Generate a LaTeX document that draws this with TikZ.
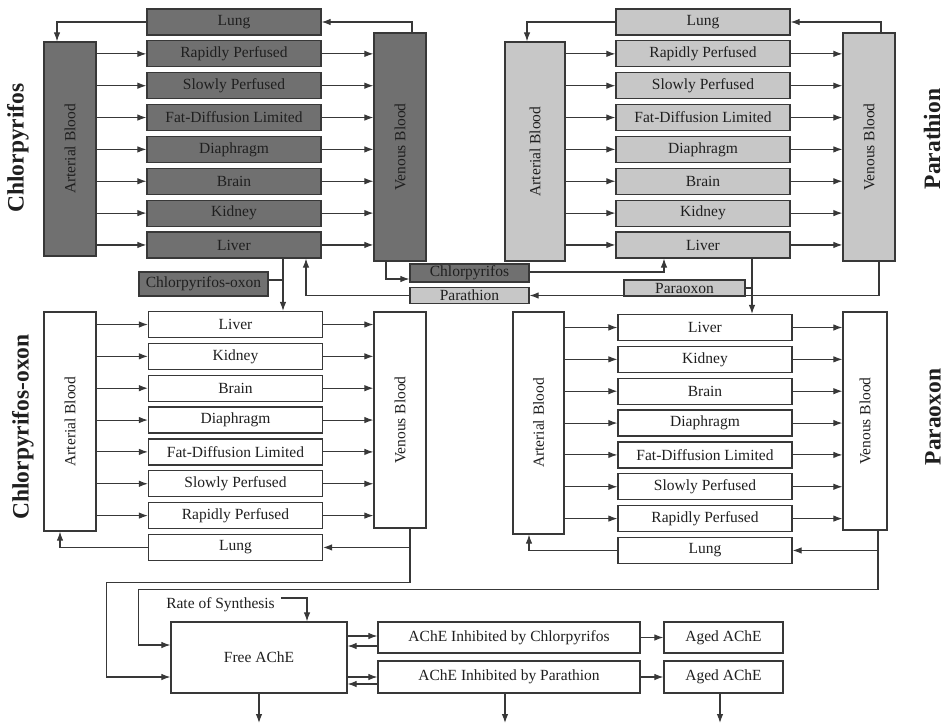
\documentclass[tikz,border=0pt]{standalone}
\usepackage{graphicx}
\usepackage{fontspec}
\setmainfont{Liberation Serif}
\usetikzlibrary{positioning, arrows.meta}

\definecolor{darkfill}{gray}{0.44}
\definecolor{lightfill}{gray}{0.78}
\definecolor{wire}{gray}{0.22}
\definecolor{ink}{gray}{0.12}

\begin{document}
\begin{tikzpicture}[
            x = 1pt, y = -1pt,
            > = {Latex[length=9pt, width=6.5pt]},
            node distance = 31.85pt,
            on grid,
            organ/.style = {rectangle, draw=wire, line width=1.2pt, fill=white, text=ink,
                minimum width=174pt, minimum height=26pt, inner sep=0pt,
                font=\fontsize{15.5}{17}\selectfont},
            dark/.style = {organ, fill=darkfill},
            light/.style = {organ, fill=lightfill},
            flow/.style = {->, color=wire, line width=1.1pt},
            link/.style = {color=wire, line width=1.1pt},
            side/.style = {rotate=90, text=ink, font=\bfseries\fontsize{23.5}{26}\selectfont}
        ]

            \useasboundingbox (0,0) rectangle (944,725);

            % Chlorpyrifos compartments
            \node[dark] (lungA) at (234,22) {Lung};
            \node[dark] (rapidA) [below=of lungA] {Rapidly Perfused};
            \node[dark] (slowA) [below=of rapidA] {Slowly Perfused};
            \node[dark] (fatA) [below=of slowA] {Fat-Diffusion Limited};
            \node[dark] (diaA) [below=of fatA] {Diaphragm};
            \node[dark] (brainA) [below=of diaA] {Brain};
            \node[dark] (kidA) [below=of brainA] {Kidney};
            \node[dark] (livA) [below=of kidA] {Liver};
            \node[dark, minimum width=52pt, minimum height=214pt] (artA) at (70,149) {\rotatebox{90}{Arterial Blood}};
            \node[dark, minimum width=52pt, minimum height=228pt] (venA) at (400,147) {\rotatebox{90}{Venous Blood}};

            % Parathion compartments
            \node[light] (lungB) at (703,22) {Lung};
            \node[light] (rapidB) [below=of lungB] {Rapidly Perfused};
            \node[light] (slowB) [below=of rapidB] {Slowly Perfused};
            \node[light] (fatB) [below=of slowB] {Fat-Diffusion Limited};
            \node[light] (diaB) [below=of fatB] {Diaphragm};
            \node[light] (brainB) [below=of diaB] {Brain};
            \node[light] (kidB) [below=of brainB] {Kidney};
            \node[light] (livB) [below=of kidB] {Liver};
            \node[light, minimum width=60pt, minimum height=219pt] (artB) at (535,151.5) {\rotatebox{90}{Arterial Blood}};
            \node[light, minimum width=52pt, minimum height=228pt] (venB) at (869,147) {\rotatebox{90}{Venous Blood}};

            % Chlorpyrifos-oxon compartments
            \node[organ] (livC) at (235.5,324.5) {Liver};
            \node[organ] (kidC) [below=of livC] {Kidney};
            \node[organ] (brainC) [below=of kidC] {Brain};
            \node[organ] (diaC) [below=of brainC] {Diaphragm};
            \node[organ] (fatC) [below=of diaC] {Fat-Diffusion Limited};
            \node[organ] (slowC) [below=of fatC] {Slowly Perfused};
            \node[organ] (rapidC) [below=of slowC] {Rapidly Perfused};
            \node[organ] (lungC) [below=of rapidC] {Lung};
            \node[organ, minimum width=52pt, minimum height=219pt] (artC) at (70,421.5) {\rotatebox{90}{Arterial Blood}};
            \node[organ, minimum width=52pt, minimum height=216pt] (venC) at (400,420) {\rotatebox{90}{Venous Blood}};

            % Paraoxon compartments
            \node[organ] (livD) at (705,327.5) {Liver};
            \node[organ] (kidD) [below=of livD] {Kidney};
            \node[organ] (brainD) [below=of kidD] {Brain};
            \node[organ] (diaD) [below=of brainD] {Diaphragm};
            \node[organ] (fatD) [below=of diaD] {Fat-Diffusion Limited};
            \node[organ] (slowD) [below=of fatD] {Slowly Perfused};
            \node[organ] (rapidD) [below=of slowD] {Rapidly Perfused};
            \node[organ] (lungD) [below=of rapidD] {Lung};
            \node[organ, minimum width=51pt, minimum height=222pt] (artD) at (538.5,423) {\rotatebox{90}{Arterial Blood}};
            \node[organ, minimum width=44pt, minimum height=218pt] (venD) at (865,421) {\rotatebox{90}{Venous Blood}};

            % Exchange boxes between the models
            \node[dark, minimum width=129pt, minimum height=24pt] (oxonA) at (203.5,284) {Chlorpyrifos-oxon};
            \node[dark, minimum width=119pt, minimum height=18pt] (chlor) at (469.5,273) {Chlorpyrifos};
            \node[light, minimum width=119pt, minimum height=16pt] (parath) at (469.5,295.5) {Parathion};
            \node[light, minimum width=121pt, minimum height=16pt] (paraox) at (684.5,288) {Paraoxon};

            % Enzyme states
            \node[organ, minimum width=176pt, minimum height=71pt] (freeA) at (259,657.5) {Free AChE};
            \node[organ, minimum width=262pt, minimum height=31pt] (inhC) at (509,637.5) {AChE Inhibited by Chlorpyrifos};
            \node[organ, minimum width=262pt, minimum height=32pt] (inhP) at (509,677) {AChE Inhibited by Parathion};
            \node[organ, minimum width=119pt, minimum height=31pt] (agedC) at (723.5,637.5) {Aged AChE};
            \node[organ, minimum width=119pt, minimum height=32pt] (agedP) at (723.5,677) {Aged AChE};
            \node[text=ink, inner sep=0pt, font=\fontsize{15.5}{17}\selectfont] (rate) at (220.5,605) {Rate of Synthesis};

            % Side labels
            \node[side] (labA) at (18,148) {Chlorpyrifos};
            \node[side] (labB) at (932,139) {Parathion};
            \node[side] (labC) at (23,427) {Chlorpyrifos-oxon};
            \node[side] (labD) at (933,417) {Paraoxon};

            % Flows through the chlorpyrifos model
            \path[flow] (artA.east |- rapidA) edge (rapidA) (rapidA) edge (venA.west |- rapidA);
            \path[flow] (artA.east |- slowA) edge (slowA) (slowA) edge (venA.west |- slowA);
            \path[flow] (artA.east |- fatA) edge (fatA) (fatA) edge (venA.west |- fatA);
            \path[flow] (artA.east |- diaA) edge (diaA) (diaA) edge (venA.west |- diaA);
            \path[flow] (artA.east |- brainA) edge (brainA) (brainA) edge (venA.west |- brainA);
            \path[flow] (artA.east |- kidA) edge (kidA) (kidA) edge (venA.west |- kidA);
            \path[flow] (artA.east |- livA) edge (livA) (livA) edge (venA.west |- livA);
            \draw[flow] ([xshift=12pt]venA.north) |- (lungA);
            \draw[flow] (lungA) -| ([xshift=-13pt]artA.north);

            % Flows through the parathion model
            \path[flow] (artB.east |- rapidB) edge (rapidB) (rapidB) edge (venB.west |- rapidB);
            \path[flow] (artB.east |- slowB) edge (slowB) (slowB) edge (venB.west |- slowB);
            \path[flow] (artB.east |- fatB) edge (fatB) (fatB) edge (venB.west |- fatB);
            \path[flow] (artB.east |- diaB) edge (diaB) (diaB) edge (venB.west |- diaB);
            \path[flow] (artB.east |- brainB) edge (brainB) (brainB) edge (venB.west |- brainB);
            \path[flow] (artB.east |- kidB) edge (kidB) (kidB) edge (venB.west |- kidB);
            \path[flow] (artB.east |- livB) edge (livB) (livB) edge (venB.west |- livB);
            \draw[flow] ([xshift=12pt]venB.north) |- (lungB);
            \draw[flow] (lungB) -| ([xshift=-8pt]artB.north);

            % Flows through the oxon model
            \path[flow] (artC.east |- livC) edge (livC) (livC) edge (venC.west |- livC);
            \path[flow] (artC.east |- kidC) edge (kidC) (kidC) edge (venC.west |- kidC);
            \path[flow] (artC.east |- brainC) edge (brainC) (brainC) edge (venC.west |- brainC);
            \path[flow] (artC.east |- diaC) edge (diaC) (diaC) edge (venC.west |- diaC);
            \path[flow] (artC.east |- fatC) edge (fatC) (fatC) edge (venC.west |- fatC);
            \path[flow] (artC.east |- slowC) edge (slowC) (slowC) edge (venC.west |- slowC);
            \path[flow] (artC.east |- rapidC) edge (rapidC) (rapidC) edge (venC.west |- rapidC);
            \draw[flow] ([xshift=10pt]venC.south) |- (lungC);
            \draw[flow] (lungC) -| ([xshift=-10pt]artC.south);

            % Flows through the paraoxon model
            \path[flow] (artD.east |- livD) edge (livD) (livD) edge (venD.west |- livD);
            \path[flow] (artD.east |- kidD) edge (kidD) (kidD) edge (venD.west |- kidD);
            \path[flow] (artD.east |- brainD) edge (brainD) (brainD) edge (venD.west |- brainD);
            \path[flow] (artD.east |- diaD) edge (diaD) (diaD) edge (venD.west |- diaD);
            \path[flow] (artD.east |- fatD) edge (fatD) (fatD) edge (venD.west |- fatD);
            \path[flow] (artD.east |- slowD) edge (slowD) (slowD) edge (venD.west |- slowD);
            \path[flow] (artD.east |- rapidD) edge (rapidD) (rapidD) edge (venD.west |- rapidD);
            \draw[flow] ([xshift=13pt]venD.south) |- (lungD);
            \draw[flow] (lungD) -| ([xshift=-9.5pt]artD.south);

            % Metabolism in the liver
            \coordinate (dropA) at ([xshift=49pt]livA.south);
            \coordinate (dropB) at ([xshift=49pt]livB.south);
            \draw[flow] (dropA) -- (dropA |- livC.north);
            \draw[link] ([yshift=4pt]oxonA.east) -- ([yshift=4pt]oxonA.east -| dropA);
            \draw[flow] (dropB) -- (dropB |- livD.north);
            \draw[link] (paraox.east) -- (paraox.east -| dropB);

            % Cross-over of parent compounds
            \draw[flow] ([xshift=-14pt]venA.south) |- ([yshift=-6pt]chlor.west);
            \draw[flow] ([yshift=1pt]chlor.east) -| ([xshift=-39pt]livB.south);
            \draw[flow] ([xshift=10pt]venB.south) |- (parath);
            \draw[flow] (parath) -| ([xshift=72pt]livA.south);

            % Oxons reaching the enzyme
            \draw[flow] ([xshift=10pt]venC.south) -- ++(0,54) -| ([xshift=-64pt, yshift=-19.5pt]freeA.west) -- ([yshift=-19.5pt]freeA.west);
            \draw[flow] ([xshift=13pt]venD.south) -- ++(0,59) -| ([xshift=-32pt, yshift=12.5pt]freeA.west) -- ([yshift=12.5pt]freeA.west);
            \draw[flow] ([xshift=6pt, yshift=7pt]rate.east) -| ([xshift=48pt]freeA.north);

            % Inhibition, reactivation and ageing
            \draw[flow] ([yshift=1.5pt]inhC.west -| freeA.east) -- ([yshift=1.5pt]inhC.west);
            \draw[flow] ([yshift=-8.5pt]inhC.west) -- ([yshift=-8.5pt]inhC.west -| freeA.east);
            \draw[flow] (inhP.west -| freeA.east) -- (inhP.west);
            \draw[flow] ([yshift=-7pt]inhP.west) -- ([yshift=-7pt]inhP.west -| freeA.east);
            \draw[flow] (inhC) -- (agedC);
            \draw[flow] (inhP) -- (agedP);

            % Losses
            \coordinate (outF) at (259,723);
            \coordinate (outI) at (505,723);
            \coordinate (outG) at (720,723);
            \draw[flow] (freeA) -- (outF);
            \draw[flow] (inhP.south -| outI) -- (outI);
            \draw[flow] (agedP.south -| outG) -- (outG);

        \end{tikzpicture}
\end{document}
